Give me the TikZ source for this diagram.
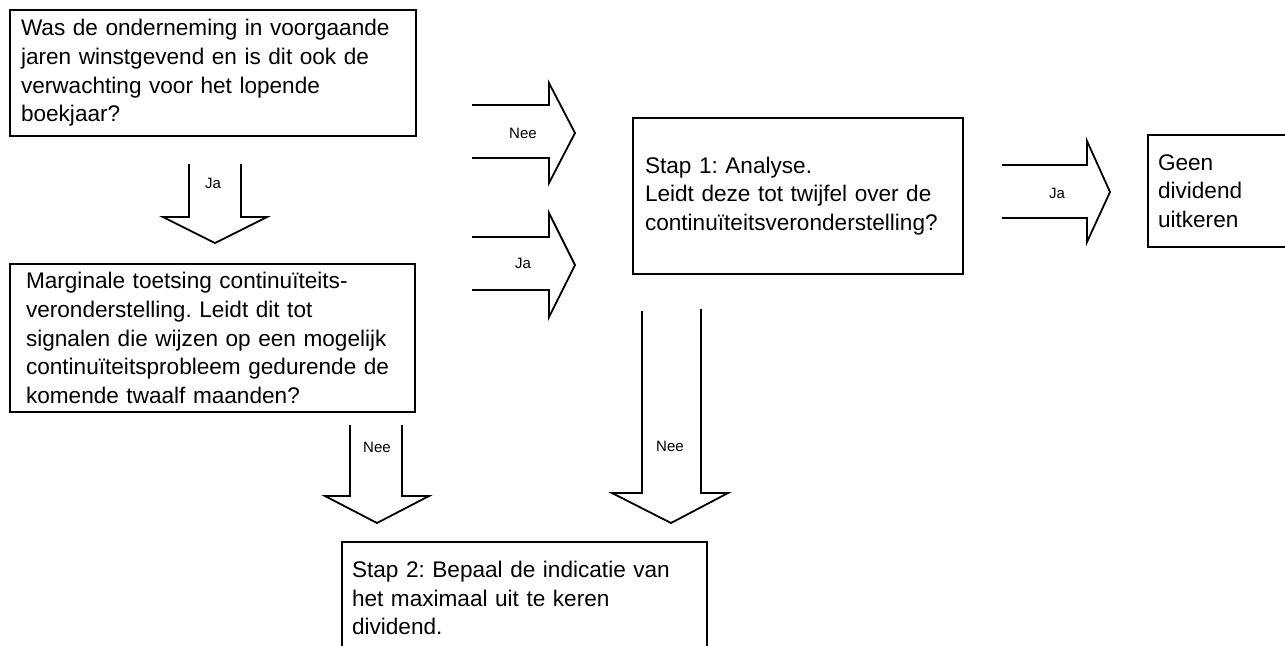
\documentclass[tikz,border=0pt]{standalone}
\usepackage{fontspec}
\setmainfont{Liberation Sans}
\usepackage{tikz}
\usetikzlibrary{positioning}
\frenchspacing
\tikzset{
    vraag/.style={draw=black, line width=1.3pt, align=left, inner ysep=0pt,
        font=\fontsize{11.3}{14.3}\selectfont},
    blokpijl/.style={draw=black, line width=0.9pt, line join=miter},
    pijltekst/.style={font=\fontsize{7.5}{9}\selectfont, inner sep=0pt},
}

\begin{document}
\begin{tikzpicture}[x=0.5pt, y=-0.5pt]
	\useasboundingbox (0,0) rectangle (1285,645);
	% vragen en stappen
	\node[vraag, minimum width=203pt, minimum height=63pt, inner xsep=5.5pt, text width=192pt] (winst) at (213,73)
		{Was de onderneming in voorgaande\\jaren winstgevend en is dit ook de\\verwachting voor het lopende\\boekjaar?};
	\node[vraag, minimum width=202.5pt, minimum height=74pt, inner xsep=8pt, text width=186.5pt] (toets) at (212.5,338)
		{Marginale toetsing continuïteits-\\veronderstelling. Leidt dit tot\\signalen die wijzen op een mogelijk\\\mbox{continuïteitsprobleem gedurende de}\\komende twaalf maanden?};
	\node[vraag, minimum width=165pt, minimum height=78pt, inner xsep=6pt, text width=153pt] (stap1) at (798,196)
		{Stap 1: Analyse.\\Leidt deze tot twijfel over de\\\mbox{continuïteitsveronderstelling?}};
	\node[vraag, minimum width=72.5pt, minimum height=56pt, inner xsep=5pt, text width=62.5pt] (geen) at (1220.5,191)
		{Geen\\dividend\\uitkeren};
	\node[vraag, minimum width=182.5pt, minimum height=56pt, inner xsep=5pt, text width=172.5pt] (stap2) at (524.5,598)
		{Stap 2: Bepaal de indicatie van\\het maximaal uit te keren\\dividend.};
	% blokpijlen
	\draw[blokpijl] (189,164) -- (189,217) -- (163,217) -- (215,243) -- (267,217) -- (241,217) -- (241,164);
	\node[pijltekst] (ja1) at (213,183) {Ja};
	\draw[blokpijl] (472,105) -- (549,105) -- (549,83) -- (575,133) -- (549,183) -- (549,158) -- (472,158);
	\node[pijltekst] (nee1) at (523,133) {Nee};
	\draw[blokpijl] (472,237) -- (549,237) -- (549,213) -- (575,265) -- (549,317) -- (549,290) -- (472,290);
	\node[pijltekst] (ja2) at (523,263) {Ja};
	\draw[blokpijl] (1002,165) -- (1087,165) -- (1087,141) -- (1110,192) -- (1087,242) -- (1087,218) -- (1002,218);
	\node[pijltekst] (ja3) at (1057,193) {Ja};
	\draw[blokpijl] (350,425) -- (350,496) -- (325,496) -- (377,523) -- (429,496) -- (402,496) -- (402,425);
	\node[pijltekst] (nee2) at (377,447) {Nee};
	\draw[blokpijl] (642,311) -- (642,493) -- (612,493) -- (671,523) -- (728,493) -- (701,493) -- (701,309);
	\node[pijltekst] (nee3) at (670,446) {Nee};
\end{tikzpicture}
\end{document}
